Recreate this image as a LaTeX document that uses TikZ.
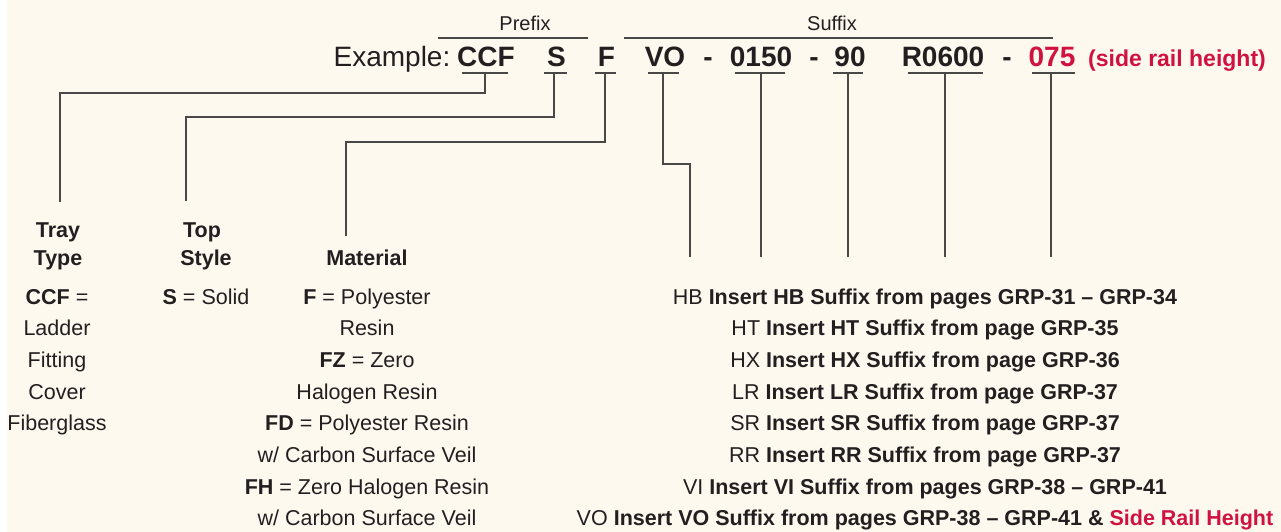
\documentclass[tikz,border=0pt]{standalone}
\usepackage{fontspec}
\setmainfont{Liberation Sans}
\definecolor{cream}{HTML}{FEF9EE}
\definecolor{ink}{HTML}{231F20}
\definecolor{wirec}{HTML}{4A4846}
\definecolor{accent}{RGB}{208,18,64}
\begin{document}
\begin{tikzpicture}[x=1pt,y=-1pt,
  txt/.style={inner sep=0pt, anchor=base, text=ink},
  head/.style={txt, font=\fontsize{20}{24}\selectfont},
  exm/.style={txt, font=\fontsize{28}{32}\selectfont},
  code/.style={txt, font=\fontsize{28}{32}\selectfont\bfseries},
  note/.style={txt, font=\fontsize{23}{26}\selectfont\bfseries, text=accent},
  lbl/.style={txt, font=\fontsize{21.5}{26}\selectfont\bfseries},
  body/.style={txt, font=\fontsize{21.5}{26}\selectfont},
  wire/.style={draw=wirec, line width=1.1pt},
  uline/.style={draw=wirec, line width=1.3pt}]
\useasboundingbox (0,0) rectangle (1281,532);
\fill[white] (0,0) rectangle (1281,532);
\fill[cream] (7,0) rectangle (1281,532);

% header
\node[head] (prefix) at (525,31) {Prefix};
\node[head] (suffix) at (832,31) {Suffix};
\draw[uline] (438,38) -- (588,38);
\draw[uline] (624,38) -- (1053,38);

% example row
\node[exm] (ex) at (392,67) {Example:};
\node[code] (ccf) at (486,67) {CCF};
\node[code] (s) at (556.5,67) {S};
\node[code] (f) at (606.5,67) {F};
\node[code] (vo) at (665,67) {VO};
\node[code] (d1) at (708,67) {-};
\node[code] (n0150) at (761,67) {0150};
\node[code] (d2) at (814,67) {-};
\node[code] (n90) at (850,67) {90};
\node[code] (r0600) at (943,67) {R0600};
\node[code] (d3) at (1007,67) {-};
\node[code, text=accent] (n075) at (1052,67) {075};
\node[note] (srh) at (1177,67) {(side rail height)};

% underlines
\draw[uline] (462,73) -- (508,73);
\draw[uline] (544,73) -- (567,73);
\draw[uline] (595,73) -- (616,73);
\draw[uline] (648,73) -- (679,73);
\draw[uline] (735,73) -- (785,73);
\draw[uline] (833,73) -- (863,73);
\draw[uline] (908,73) -- (983,73);
\draw[uline] (1032,73) -- (1075,73);

\coordinate (ccfu) at (485,73);
\coordinate (su) at (554,73);
\coordinate (fu) at (605,73);
\coordinate (vou) at (663,73);
\coordinate (n0150u) at (761,73);
\coordinate (n90u) at (848,73);
\coordinate (r0600u) at (945,73);
\coordinate (n075u) at (1051,73);

\coordinate (trayend) at (60,202);
\coordinate (topend) at (186,201);
\coordinate (matend) at (346,236);
\coordinate (voend) at (690,257);
\coordinate (n0150end) at (761,257);
\coordinate (n90end) at (848,257);
\coordinate (r0600end) at (945,257);
\coordinate (n075end) at (1051,257);

\draw[wire] (ccfu) -- ++(0,20) -| (trayend);
\draw[wire] (su) -- ++(0,44) -| (topend);
\draw[wire] (fu) -- ++(0,69) -| (matend);
\draw[wire] (vou) -- ++(0,91) -| (voend);
\draw[wire] (n0150u) -- (n0150end);
\draw[wire] (n90u) -- (n90end);
\draw[wire] (r0600u) -- (r0600end);
\draw[wire] (n075u) -- (n075end);

% column headings
\node[lbl] (tray) at (58,237) {Tray};
\node[lbl] (type) at (58,265) {Type};
\node[lbl] (top) at (202,237) {Top};
\node[lbl] (style) at (206,265) {Style};
\node[lbl] (material) at (367,265) {Material};

% tray type column
\foreach \t [count=\i from 0] in {{\textbf{CCF} =},Ladder,Fitting,Cover,Fiberglass}
  \node[body] (tt\i) at (57,304+31.7*\i) {\t};

% top style column
\node[body] (ts0) at (206,304) {\textbf{S} = Solid};

% material column
\foreach \t [count=\i from 0] in {{\textbf{F} = Polyester},Resin,{\textbf{FZ} = Zero},Halogen Resin,{\textbf{FD} = Polyester Resin},w/ Carbon Surface Veil,{\textbf{FH} = Zero Halogen Resin},w/ Carbon Surface Veil}
  \node[body] (mt\i) at (367,304+31.7*\i) {\t};

% suffix column
\foreach \t [count=\i from 0] in {
  {HB \textbf{Insert HB Suffix from pages GRP-31 – GRP-34}},
  {HT \textbf{Insert HT Suffix from page GRP-35}},
  {HX \textbf{Insert HX Suffix from page GRP-36}},
  {LR \textbf{Insert LR Suffix from page GRP-37}},
  {SR \textbf{Insert SR Suffix from page GRP-37}},
  {RR \textbf{Insert RR Suffix from page GRP-37}},
  {VI \textbf{Insert VI Suffix from pages GRP-38 – GRP-41}},
  {VO \textbf{Insert VO Suffix from pages GRP-38 – GRP-41 \& \textcolor{accent}{Side Rail Height}}}}
  \node[body] (sx\i) at (925,304+31.7*\i) {\t};
\end{tikzpicture}
\end{document}
